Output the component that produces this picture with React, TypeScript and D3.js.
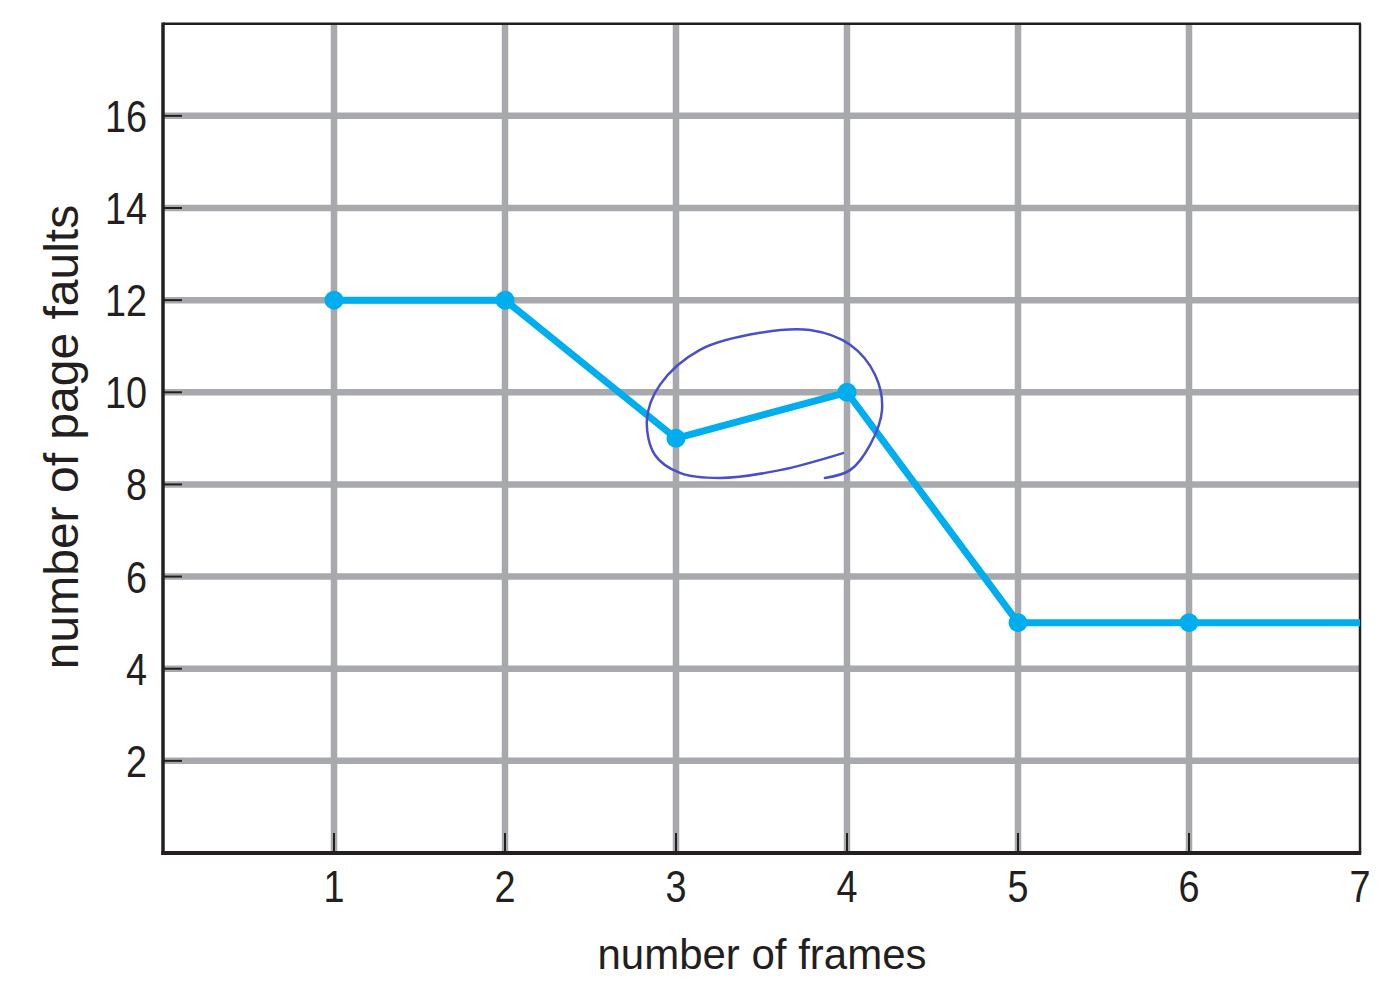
import React from "react";
import * as d3 from "d3";

const frames = [1, 2, 3, 4, 5, 6, 7];
const pageFaults = [12, 12, 9, 10, 5, 5, 5];
const markedFrames = [1, 2, 3, 4, 5, 6];
const xTicks = [1, 2, 3, 4, 5, 6, 7];
const yTicks = [2, 4, 6, 8, 10, 12, 14, 16];
// hand-drawn annotation loop around frames 3-4, in data units
const annotX = [3.977, 3.608, 3.257, 3.023, 2.877, 2.83, 2.906, 3.14, 3.491, 3.784, 4.018, 4.164, 4.205, 4.135, 4.018, 3.871];
const annotY = [8.68, 8.31, 8.14, 8.25, 8.64, 9.4, 10.16, 10.92, 11.29, 11.35, 11.03, 10.38, 9.62, 8.86, 8.31, 8.14];

const W = 1397;
const H = 1000;
const GRID = "#a7a9ac";
const BLUE = "#00aeef";
const INK = "#231f20";

export default function App() {
  const x = d3.scaleLinear().domain([0, 7]).range([163, 1360]);
  const y = d3.scaleLinear().domain([0, 18]).range([853, 23.7]);
  const pts = frames.map((f, i) => [f, pageFaults[i]] as [number, number]);
  const line = d3
    .line<[number, number]>()
    .x((d) => x(d[0]))
    .y((d) => y(d[1]));
  const annot = d3
    .line<[number, number]>()
    .x((d) => x(d[0]))
    .y((d) => y(d[1]))
    .curve(d3.curveCatmullRom.alpha(0.5));
  const annotPts = annotX.map((v, i) => [v, annotY[i]] as [number, number]);
  const [x0, x1] = x.range();
  const [y0, y1] = y.range();
  const font = "'Liberation Sans', Arial, Helvetica, sans-serif";

  return (
    <svg
      width={W}
      height={H}
      viewBox={`0 0 ${W} ${H}`}
      style={{ position: "absolute", left: 0, top: 0, background: "#fff" }}
    >
      <rect x={0} y={0} width={W} height={H} fill="#fff" />
      {/* grid */}
      {xTicks
        .filter((t) => t < 7)
        .map((t) => (
          <line key={"gx" + t} x1={x(t)} x2={x(t)} y1={y1 + 1} y2={y0} stroke={GRID} strokeWidth={6.5} />
        ))}
      {yTicks.map((t) => (
        <line key={"gy" + t} x1={x0} x2={x1} y1={y(t)} y2={y(t)} stroke={GRID} strokeWidth={6.5} />
      ))}
      {/* frame */}
      <line x1={x0} x2={x1 + 1} y1={y1} y2={y1} stroke={INK} strokeWidth={2.5} />
      <line x1={x1} x2={x1} y1={y1} y2={y0} stroke={INK} strokeWidth={2.5} />
      <line x1={x0} x2={x0} y1={y1 - 1.2} y2={y0 + 2} stroke={INK} strokeWidth={3.5} />
      <line x1={x0 - 1.7} x2={x1 + 1.2} y1={y0} y2={y0} stroke={INK} strokeWidth={4} />
      {/* ticks */}
      {yTicks.map((t) => (
        <line key={"ty" + t} x1={x0} x2={x0 + 19} y1={y(t)} y2={y(t)} stroke={INK} strokeWidth={2} />
      ))}
      {xTicks
        .filter((t) => t < 7)
        .map((t) => (
          <line key={"tx" + t} x1={x(t)} x2={x(t)} y1={y0 - 20} y2={y0} stroke={INK} strokeWidth={2} />
        ))}
      {/* tick labels */}
      {yTicks.map((t) => (
        <text
          key={"ly" + t}
          transform={`translate(147,${y(t) + 16}) scale(0.86,1)`}
          textAnchor="end"
          fontFamily={font}
          fontSize={44}
          fill={INK}
        >
          {t}
        </text>
      ))}
      {xTicks.map((t) => (
        <text
          key={"lx" + t}
          transform={`translate(${x(t)},902) scale(0.86,1)`}
          textAnchor="middle"
          fontFamily={font}
          fontSize={44}
          fill={INK}
        >
          {t}
        </text>
      ))}
      {/* axis titles */}
      <text x={762} y={969} textAnchor="middle" fontFamily={font} fontSize={42} fill={INK}>
        number of frames
      </text>
      <text
        transform={`translate(78,437) rotate(-90)`}
        textAnchor="middle"
        fontFamily={font}
        fontSize={48}
        fill={INK}
      >
        number of page faults
      </text>
      {/* data */}
      <path d={line(pts) ?? ""} fill="none" stroke={BLUE} strokeWidth={7} strokeLinejoin="round" />
      {pts
        .filter((p) => markedFrames.includes(p[0]))
        .map((p) => (
          <circle key={"m" + p[0]} cx={x(p[0])} cy={y(p[1])} r={9.5} fill={BLUE} />
        ))}
      {/* annotation */}
      <path d={annot(annotPts) ?? ""} fill="none" stroke="#4a4fc9" strokeWidth={2.5} strokeLinecap="round" />
    </svg>
  );
}
